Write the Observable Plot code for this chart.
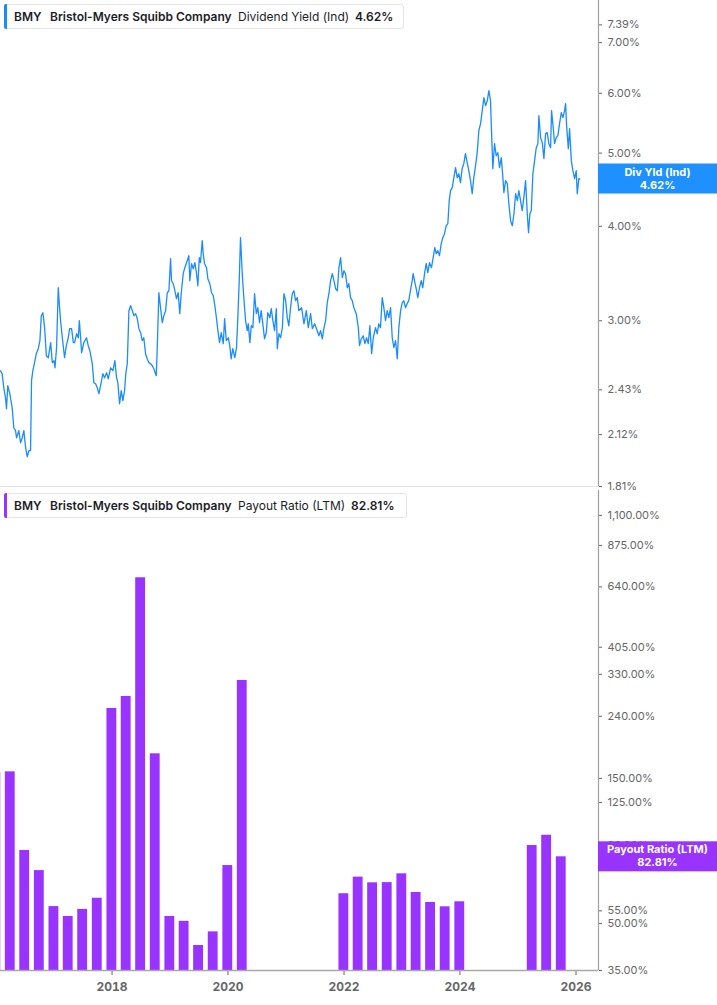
<!DOCTYPE html>
<html>
<head>
<meta charset="utf-8">
<script src="https://cdn.jsdelivr.net/npm/d3@7"></script>
<script src="https://cdn.jsdelivr.net/npm/@observablehq/plot@0.6"></script>
<style>
  html, body { margin: 0; padding: 0; background: #fff; }
  body { font-family: Inter, "Noto Sans", sans-serif; }
  #wrap { position: relative; width: 717px; height: 1005px; overflow: hidden; }
  .panel { position: absolute; left: 0; }
  .legend { position: absolute; left: 4px; height: 25px; background: #fff; border: 1px solid #e4e4ea; border-radius: 3px; box-sizing: border-box; }
  .legend .sw { position: absolute; left: -1px; top: -1px; bottom: -1px; width: 3px; border-radius: 2px 0 0 2px; }
  .legend span { position: absolute; top: 50%; transform: translateY(-50%); font-size: 12px; color: #1c1c28; white-space: nowrap; line-height: 1; }
  .legend .b { font-weight: 600; }
  svg g[aria-label="x-axis tick label"] text { font-weight: 700; font-size: 12px; }
</style>
</head>
<body>
<div id="wrap">
  <div class="panel" id="topPanel" style="top:0"></div>
  <div class="panel" id="bottomPanel" style="top:488px"></div>
  <div class="legend" style="top:4px;width:400px">
    <div class="sw" style="background:#1a8cff"></div>
    <span class="b" style="left:9px">BMY</span>
    <span class="b" style="left:45px">Bristol-Myers Squibb Company</span>
    <span style="left:233px">Dividend Yield (Ind)</span>
    <span class="b" style="left:350px">4.62%</span>
  </div>
  <div class="legend" style="top:493px;width:403px">
    <div class="sw" style="background:#9933ff"></div>
    <span class="b" style="left:9px">BMY</span>
    <span class="b" style="left:45px">Bristol-Myers Squibb Company</span>
    <span style="left:233px">Payout Ratio (LTM)</span>
    <span class="b" style="left:346px">82.81%</span>
  </div>
</div>
<script>
// ---- Dividend yield (%), decimal-year dates ----
const yieldDates = [
2016.077,2016.106,2016.134,2016.164,2016.181,2016.203,2016.238,2016.279,2016.307,2016.337,2016.354,2016.394,2016.423,2016.452,2016.480,2016.510,2016.538,2016.566,2016.595,2016.612,2016.635,2016.664,2016.694,2016.728,2016.756,2016.780,2016.808,2016.837,2016.867,2016.901,2016.941,2016.970,2016.998,
2017.015,2017.043,2017.072,2017.090,2017.112,2017.142,2017.181,2017.211,2017.245,2017.268,2017.302,2017.332,2017.354,2017.389,2017.418,2017.436,2017.458,2017.475,2017.513,2017.560,2017.589,2017.617,2017.659,2017.686,2017.716,2017.745,2017.773,2017.802,2017.842,2017.871,2017.906,2017.935,2017.975,
2018.015,2018.049,2018.078,2018.100,2018.130,2018.159,2018.187,2018.216,2018.239,2018.263,2018.291,2018.320,2018.350,2018.377,2018.407,2018.436,2018.464,2018.493,2018.521,2018.548,2018.578,2018.607,2018.635,2018.664,2018.694,2018.721,2018.763,2018.780,2018.808,2018.837,2018.867,2018.894,2018.924,2018.953,2018.981,
2019.010,2019.026,2019.055,2019.077,2019.112,2019.141,2019.169,2019.193,2019.228,2019.256,2019.297,2019.325,2019.342,2019.372,2019.401,2019.429,2019.458,2019.481,2019.505,2019.526,2019.556,2019.573,2019.596,2019.630,2019.653,2019.687,2019.717,2019.746,2019.774,2019.803,2019.826,2019.855,2019.884,2019.919,2019.942,2019.971,
2020.006,2020.031,2020.055,2020.083,2020.118,2020.147,2020.170,2020.194,2020.216,2020.246,2020.273,2020.303,2020.332,2020.350,2020.377,2020.401,2020.429,2020.458,2020.488,2020.514,2020.543,2020.572,2020.600,2020.629,2020.659,2020.686,2020.721,2020.745,2020.773,2020.802,2020.832,2020.849,2020.877,2020.906,2020.936,2020.963,2020.993,
2021.020,2021.048,2021.077,2021.107,2021.135,2021.164,2021.193,2021.221,2021.268,2021.308,2021.349,2021.384,2021.423,2021.453,2021.493,2021.538,2021.566,2021.595,2021.625,2021.652,2021.682,2021.711,2021.739,2021.768,2021.798,2021.826,2021.855,2021.884,2021.912,2021.941,2021.971,2021.999,
2022.026,2022.056,2022.083,2022.113,2022.142,2022.170,2022.211,2022.246,2022.268,2022.297,2022.332,2022.360,2022.389,2022.418,2022.446,2022.476,2022.505,2022.543,2022.572,2022.600,2022.629,2022.659,2022.687,2022.716,2022.745,2022.773,2022.803,2022.832,2022.860,2022.889,2022.918,2022.946,2022.976,
2023.005,2023.031,2023.060,2023.089,2023.117,2023.146,2023.176,2023.193,2023.216,2023.245,2023.273,2023.302,2023.332,2023.359,2023.389,2023.418,2023.446,2023.475,2023.509,2023.538,2023.566,2023.590,2023.618,2023.647,2023.677,2023.704,2023.734,2023.763,2023.791,2023.815,2023.838,2023.867,2023.895,2023.924,2023.953,2023.981,
2024.009,2024.038,2024.066,2024.095,2024.125,2024.152,2024.182,2024.211,2024.239,2024.268,2024.297,2024.325,2024.355,2024.384,2024.412,2024.441,2024.471,2024.498,2024.526,2024.543,2024.566,2024.595,2024.624,2024.652,2024.681,2024.711,2024.739,2024.756,2024.785,2024.815,2024.842,2024.872,2024.901,2024.929,2024.958,2024.988,
2025.013,2025.043,2025.072,2025.100,2025.130,2025.159,2025.181,2025.204,2025.228,2025.256,2025.285,2025.314,2025.342,2025.359,2025.389,2025.418,2025.446,2025.475,2025.503,2025.531,2025.561,2025.578,2025.607,2025.630,2025.659,2025.687,2025.716,2025.746,2025.774,2025.803,2025.820,2025.838,2025.867,2025.889,2025.919,2025.946,2025.976,
2026.004,2026.021,2026.050,2026.067
];
const yieldValues = [
2.576,2.553,2.446,2.372,2.294,2.461,2.402,2.301,2.165,2.146,2.100,2.146,2.068,2.100,2.146,2.037,1.982,2.019,2.019,2.499,2.576,2.640,2.713,2.755,2.823,3.046,3.074,2.937,2.696,2.680,2.806,2.640,2.656,
2.599,2.763,3.317,3.160,3.000,2.848,2.680,2.780,2.848,2.928,2.928,2.806,2.806,2.883,2.848,3.000,2.848,2.721,2.806,2.848,2.780,2.738,2.632,2.484,2.476,2.446,2.402,2.461,2.553,2.521,2.560,2.513,2.599,
2.576,2.656,2.521,2.484,2.329,2.424,2.351,2.424,2.560,2.632,3.093,3.140,3.093,3.046,3.065,3.018,2.928,2.892,2.823,2.848,2.713,2.671,2.640,2.632,2.615,2.591,2.537,2.763,3.267,3.121,2.982,3.046,3.093,3.267,3.287,
3.624,3.389,3.358,3.307,3.208,3.267,3.065,3.257,3.462,3.526,3.602,3.657,3.389,3.569,3.515,3.580,3.462,3.337,3.635,3.580,3.829,3.680,3.569,3.526,3.410,3.358,3.267,3.238,3.140,3.018,2.910,2.806,2.892,2.797,3.018,2.823,
2.848,2.780,2.671,2.755,2.680,2.763,3.028,3.389,3.864,3.462,3.218,3.000,2.910,2.972,2.806,2.954,2.937,3.257,3.065,3.121,2.982,3.093,2.972,2.839,2.892,3.074,3.028,3.112,3.000,2.910,3.112,2.755,2.883,2.848,2.937,3.257,3.189,
3.028,2.954,3.121,3.257,3.287,3.189,3.218,3.093,3.121,2.972,3.093,2.937,3.065,2.928,2.972,2.910,2.865,2.910,2.839,2.928,3.000,3.170,3.257,3.389,3.462,3.389,3.307,3.287,3.526,3.635,3.420,3.494,
3.462,3.317,3.358,3.218,3.189,3.121,3.065,2.937,2.780,2.839,2.865,2.797,2.848,2.797,2.954,2.713,2.848,2.937,2.883,2.972,2.937,3.218,3.121,3.000,3.093,3.028,3.121,2.848,2.763,2.823,2.671,2.937,3.093,
3.170,3.189,3.121,3.160,3.189,3.287,3.389,3.462,3.389,3.307,3.218,3.317,3.389,3.317,3.462,3.569,3.473,3.580,3.526,3.635,3.748,3.680,3.714,3.657,3.794,3.864,3.911,4.007,4.032,4.325,4.459,4.500,4.639,4.783,4.639,4.695,
4.569,4.768,4.841,4.991,4.856,4.739,4.597,4.418,4.639,4.811,5.006,5.354,5.469,5.691,5.921,5.777,5.867,6.049,5.867,5.354,4.768,5.145,4.960,5.006,4.783,4.931,4.639,4.432,4.597,4.555,4.285,4.069,4.007,4.156,4.418,4.325,
4.459,4.325,4.195,4.365,4.597,4.156,3.923,4.156,4.195,4.695,4.886,5.083,5.145,5.604,5.241,5.161,4.916,5.305,5.321,5.145,5.083,5.691,5.403,5.145,5.241,5.272,5.469,5.656,5.571,5.691,5.813,5.436,5.068,5.387,4.886,4.739,4.625,
4.739,4.418,4.625,4.620
];

// ---- Payout ratio (LTM, %), quarter ends ----
const payoutQuarters = [
"2015-12-31","2016-03-31","2016-06-30","2016-09-30","2016-12-31","2017-03-31","2017-06-30","2017-09-30","2017-12-31",
"2018-03-31","2018-06-30","2018-09-30","2018-12-31","2019-03-31","2019-06-30","2019-09-30","2019-12-31","2020-03-31",
"2021-12-31","2022-03-31","2022-06-30","2022-09-30","2022-12-31","2023-03-31","2023-06-30","2023-09-30","2023-12-31",
"2025-03-31","2025-06-30","2025-09-30"
];
const payoutValues = [
157, 157.6, 86.9, 74.6, 56.8, 52.7, 55.6, 60.5, 254.7,
279, 685.7, 180.7, 52.7, 50.8, 42.3, 46.9, 77.5, 315,
62.6, 71.0, 68.0, 68.1, 72.8, 63.2, 58.6, 56.7, 58.9,
90.2, 97.5, 82.81
];

// ---- Axis ticks ----
const yieldTicks = [1.81, 2.12, 2.43, 3, 4, 5, 6, 7, 7.39];
const payoutTicks = [35, 50, 55, 90, 125, 150, 240, 330, 405, 640, 875, 1100];
const yearTicks = [2018, 2020, 2022, 2024, 2026];

const lastYield = {label: "Div Yld (Ind)", value: 4.62};
const lastPayout = {label: "Payout Ratio (LTM)", value: 82.81};

const BLUE = "#1a8cff", PURPLE = "#9933ff";

function decYear(y) {
  const yr = Math.floor(y);
  const a = Date.UTC(yr, 0, 1), b = Date.UTC(yr + 1, 0, 1);
  return new Date(a + (y - yr) * (b - a));
}
const xDomain = [decYear(2016.078), decYear(2026.388)];

const yieldData = yieldDates.map((d, i) => ({date: decYear(d), value: yieldValues[i]}));
const DAY = 864e5;
const payoutData = payoutQuarters.map((q, i) => {
  const d = new Date(q + "T00:00:00Z");
  return {x1: new Date(+d - 31 * DAY), x2: new Date(+d + 31 * DAY), value: payoutValues[i]};
});

const baseStyle = {fontFamily: "Inter, 'Noto Sans', sans-serif", fontSize: "11px", color: "#666", background: "transparent", overflow: "visible"};
const fmtYield = d => d.toFixed(2) + "%";
const fmtPayout = d => d3.format(",.2f")(d) + "%";

const yieldPlot = Plot.plot({
  width: 717, height: 488,
  marginTop: 0, marginBottom: 2, marginLeft: 0, marginRight: 119,
  style: baseStyle,
  x: {type: "utc", domain: xDomain, axis: null},
  y: {type: "log", domain: [1.81, 7.96], axis: null},
  marks: [
    Plot.ruleY([1.81], {stroke: "#e2e2e2"}),
    Plot.axisY({anchor: "right", ticks: yieldTicks, tickSize: 3, tickFormat: () => "", label: null}),
    Plot.text(yieldTicks, {x: xDomain[1], y: d => d, text: fmtYield, dx: 9, textAnchor: "start", fill: "#666"}),
    Plot.ruleX([xDomain[1]], {stroke: "#a0a0a0", strokeWidth: 1.2}),
    Plot.line(yieldData, {x: "date", y: "value", stroke: BLUE, strokeWidth: 1.3, clip: true})
  ]
});
document.getElementById("topPanel").appendChild(yieldPlot);

const payoutPlot = Plot.plot({
  width: 717, height: 517,
  marginTop: 2, marginBottom: 35, marginLeft: 0, marginRight: 119,
  style: baseStyle,
  x: {type: "utc", domain: xDomain, ticks: yearTicks.map(y => new Date(Date.UTC(y, 0, 1))),
      tickFormat: d => String(d.getUTCFullYear()), tickSize: 5, tickPadding: 7, label: null},
  y: {type: "log", domain: [35, 1328], axis: null},
  marks: [
    Plot.rectY(payoutData, {x1: "x1", x2: "x2", y1: 35, y2: "value", fill: PURPLE, clip: true}),
    Plot.axisY({anchor: "right", ticks: payoutTicks, tickSize: 3, tickFormat: () => "", label: null}),
    Plot.text(payoutTicks, {x: xDomain[1], y: d => d, text: fmtPayout, dx: 9, textAnchor: "start", fill: "#666"}),
    Plot.ruleY([35], {stroke: "#a8a8a8", strokeWidth: 1.5}),
    Plot.ruleX([xDomain[1]], {y1: 35, y2: 1328, stroke: "#a0a0a0", strokeWidth: 1.2})
  ]
});
document.getElementById("bottomPanel").appendChild(payoutPlot);

function addTag(plot, info, color) {
  const y = plot.scale("y").apply(info.value);
  const x0 = plot.scale("x").apply(xDomain[1]);
  const g = d3.select(plot).append("g");
  g.append("rect").attr("x", x0).attr("y", y - 15).attr("width", 717 - x0).attr("height", 30).attr("fill", color);
  const cx = x0 + (717 - x0) / 2;
  g.append("text").attr("x", cx).attr("y", y - 3).attr("text-anchor", "middle")
    .attr("fill", "#fff").attr("font-weight", 700).attr("font-size", "11px").text(info.label);
  g.append("text").attr("x", cx).attr("y", y + 10).attr("text-anchor", "middle")
    .attr("fill", "#fff").attr("font-weight", 700).attr("font-size", "11px").text(info.value.toFixed(2) + "%");
}
addTag(yieldPlot, lastYield, "#1e90ff");
addTag(payoutPlot, lastPayout, PURPLE);
</script>
</body>
</html>
